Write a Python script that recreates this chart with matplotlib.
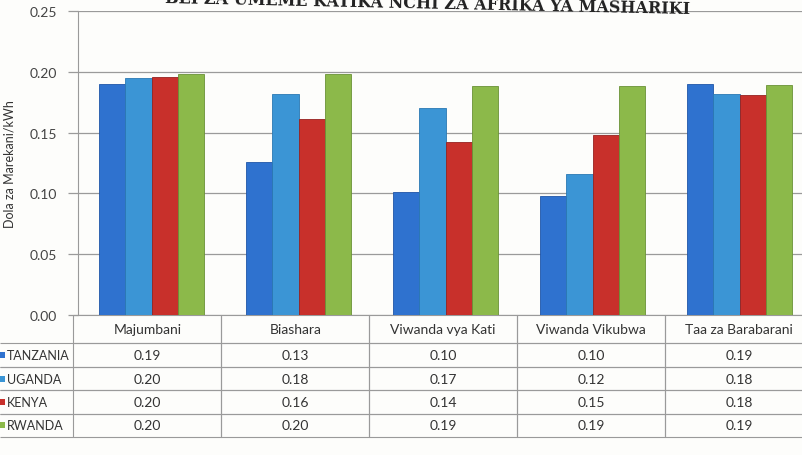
import numpy as np
import matplotlib
matplotlib.use("Agg")
import matplotlib.pyplot as plt
from matplotlib.patches import Rectangle

categories = ["Majumbani", "Biashara", "Viwanda vya Kati", "Viwanda Vikubwa", "Taa za Barabarani"]
countries = ["TANZANIA", "UGANDA", "KENYA", "RWANDA"]
tanzania = [0.190, 0.126, 0.101, 0.098, 0.190]
uganda = [0.195, 0.182, 0.170, 0.116, 0.182]
kenya = [0.196, 0.161, 0.142, 0.148, 0.181]
rwanda = [0.198, 0.198, 0.188, 0.188, 0.189]
series = [tanzania, uganda, kenya, rwanda]
colors = ["#2f72cf", "#3b95d5", "#c8302b", "#8cb94a"]
edges = ["#1f55a8", "#2a78b3", "#962220", "#6a9236"]

plt.rcParams['font.family'] = ['Lato', 'DejaVu Sans']

W, H = 802, 456
fig = plt.figure(figsize=(W / 100, H / 100), dpi=100)
fig.patch.set_facecolor("#fdfdfb")

# axes in pixel terms
ax_left, ax_width = 78, 735
ax_bottom, ax_top = 316, 12
ax = fig.add_axes([ax_left / W, 1 - ax_bottom / H, ax_width / W, (ax_bottom - ax_top) / H])
ax.set_facecolor("#fdfdfb")

x = np.arange(len(categories))
bw = 0.178
for i, (vals, c, ec) in enumerate(zip(series, colors, edges)):
    ax.bar(x + (i - 1.5) * bw, vals, bw, color=c, edgecolor=ec, linewidth=0.6,
           label=countries[i], zorder=3)

ax.set_xlim(-0.5, len(categories) - 0.5)
ax.set_ylim(0, 0.25)
ax.set_yticks(np.arange(0, 0.251, 0.05))
ax.set_yticklabels([f"{v:.2f}" for v in np.arange(0, 0.251, 0.05)], fontsize=10, color="#444444")
ax.yaxis.grid(True, color="#9a9a9a", linewidth=0.9, zorder=0)
ax.tick_params(axis="y", length=7, width=0.9, color="#9a9a9a", pad=8)
ax.set_xticks([])
for s in ["top", "right", "bottom"]:
    ax.spines[s].set_visible(False)
ax.spines["left"].set_color("#9a9a9a")
ax.set_ylabel("Dola za Marekani/kWh", fontsize=9, color="#333333", labelpad=10)

# data table under the chart
cell_text = [[name] + [f"{v:.2f}" for v in vals] for name, vals in zip(countries, series)]
col_labels = [""] + categories
label_w = 73
tbl_h = 122
ax_h = ax_bottom - ax_top
tbl = ax.table(cellText=cell_text, colLabels=col_labels,
               colWidths=[label_w] + [ax_width / 5] * 5,
               cellLoc="center", loc="bottom",
               bbox=[-ax_left / ax_width, -tbl_h / ax_h, (ax_width + ax_left) / ax_width, tbl_h / ax_h])
tbl.auto_set_font_size(False)
for (r, c), cell in tbl.get_celld().items():
    cell.set_edgecolor("#9a9a9a")
    cell.set_linewidth(0.8)
    cell.set_facecolor("none")
    cell.get_text().set_fontsize(10)
    cell.get_text().set_color("#333333")
    if r == 0:
        cell.set_height(cell.get_height() * 28 / 23)
        if c == 0:
            cell.visible_edges = ""
    if c == 0 and r > 0:
        cell.visible_edges = "TB"
        cell._loc = "left"
        cell.PAD = 0.1
        cell.get_text().set_horizontalalignment("left")
        cell.get_text().set_fontsize(9)

# legend keys in the row labels
row_h = 122 / (4 + 28 / 23)
for i, c in enumerate(colors):
    yc = 316 + row_h * 28 / 23 + row_h * (i + 0.5)
    fig.add_artist(Rectangle((-1 / W, 1 - (yc + 3) / H), 6 / W, 6 / H,
                             transform=fig.transFigure, facecolor=c, edgecolor="none"))

# title, partly cut at the top edge as in the scan
fig.text(690 / W, 0.992, "BEI ZA UMEME KATIKA NCHI ZA AFRIKA YA MASHARIKI",
         fontsize=11.5, fontweight="bold", family="DejaVu Serif", ha="right", va="center",
         rotation=-1.2, color="#222222")

fig.savefig("out.png", dpi=100, facecolor=fig.get_facecolor())
